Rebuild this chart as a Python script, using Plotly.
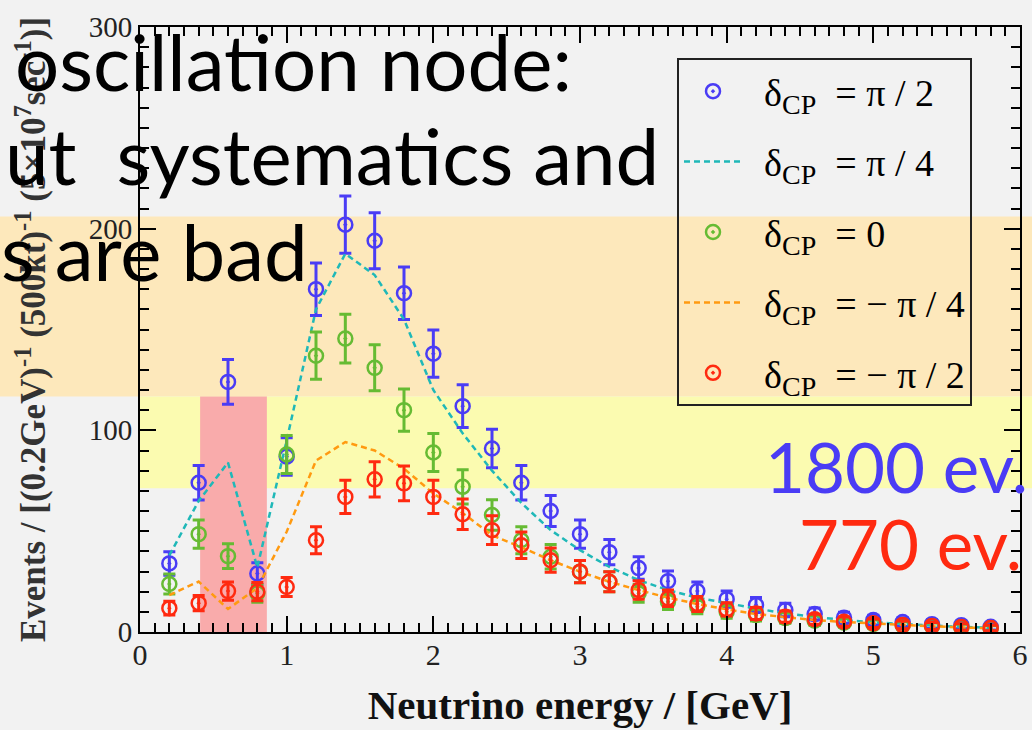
import plotly.graph_objects as go

energy = [0.2, 0.4, 0.6, 0.8, 1.0, 1.2, 1.4, 1.6, 1.8, 2.0, 2.2, 2.4, 2.6, 2.8, 3.0,
          3.2, 3.4, 3.6, 3.8, 4.0, 4.2, 4.4, 4.6, 4.8, 5.0, 5.2, 5.4, 5.6, 5.8]

dcp_pi2 = [34, 74, 124, 29, 87, 170, 202, 194, 168, 138, 112, 91, 74, 60, 48.5,
           39.6, 31.7, 25.2, 20.3, 16.3, 13.4, 10.9, 8.9, 7.1, 5.9, 4.9, 3.9, 3.4, 2.6]
err_pi2 = [5.8, 8.6, 11.1, 5.4, 9.3, 13.0, 14.2, 13.9, 13.0, 11.7, 10.6, 9.5, 8.6, 7.7, 7.0,
           6.3, 5.6, 5.0, 4.5, 4.0, 3.7, 3.3, 3.0, 2.7, 2.4, 2.2, 2.0, 1.8, 1.6]

dcp_pi4 = [38, 65, 84, 32, 95, 160, 187.6, 177, 155, 120, 98.5, 80, 64, 50.5, 40.6,
           32.3, 25.7, 20.8, 17, 14.2, 11.7, 9.2, 7.6, 5.9, 4.8, 3.9, 3.2, 2.6, 2.1]

dcp_0 = [23.8, 48.5, 37.6, 19.2, 88, 137, 145.5, 131, 110, 89, 72, 58, 45.5, 37.3, 29.9,
         24.9, 19.2, 15, 12.5, 10, 8.4, 6.9, 5.6, 4.6, 4.0, 3.3, 2.8, 2.3, 1.8]
err_0 = [4.9, 7.0, 6.1, 4.4, 9.4, 11.7, 12.1, 11.4, 10.5, 9.4, 8.5, 7.6, 6.7, 6.1, 5.5,
         5.0, 4.4, 3.9, 3.5, 3.2, 2.9, 2.6, 2.4, 2.1, 2.0, 1.8, 1.7, 1.5, 1.3]

dcp_mpi4 = [18.3, 25, 11.4, 21.8, 49.7, 85, 94.2, 90, 81, 68.7, 59, 48, 42, 35.6, 29.9,
            24.9, 20.8, 17, 13.9, 11.2, 8.9, 7.3, 5.9, 5.0, 4.1, 3.5, 2.8, 2.3, 1.8]

dcp_mpi2 = [11.8, 14.3, 20.3, 20, 22.3, 45.5, 67, 75.7, 73.7, 67, 58.4, 50.5, 43, 35.6, 29.9,
            24.9, 20.8, 16.7, 13.9, 11.2, 9.2, 7.6, 6.3, 5.1, 4.3, 3.5, 3.0, 2.5, 2.0]
err_mpi2 = [3.4, 3.8, 4.5, 4.5, 4.7, 6.7, 8.2, 8.7, 8.6, 8.2, 7.6, 7.1, 6.6, 6.0, 5.5,
            5.0, 4.6, 4.1, 3.7, 3.3, 3.0, 2.8, 2.5, 2.3, 2.1, 1.9, 1.7, 1.6, 1.4]

NB = "\u00a0"
TH = "\u2009"
SUB = "<sub><span style='font-size:28px'>CP</span></sub>"
PRE = NB + TH
labels = [PRE + "δ" + SUB + NB * 2 + "= π / 2",
          PRE + "δ" + SUB + NB * 2 + "= π / 4",
          PRE + "δ" + SUB + NB * 2 + "= 0",
          PRE + "δ" + SUB + NB * 2 + "= − π / 4",
          PRE + "δ" + SUB + NB * 2 + "= − π / 2"]

x_ticks = [0, 1, 2, 3, 4, 5, 6]
y_ticks = [0, 100, 200, 300]
x_range = [0, 6]
y_range = [0, 300]

# slide highlight bands (in data units of the y axis)
orange_band = [116.8, 206]
yellow_band = [71.3, 116.8]
red_box_x = [0.41, 0.865]

overlay_lines = ["oscillation node:", "ut  systematics and", "s are bad"]
count_texts = ["1800 ev.", "770 ev."]

BLUE = "#4a3cf5"
CYAN = "#1fb8b8"
GREEN = "#66bb33"
ORANGE = "#ff9a10"
RED = "#ff2a10"

fig = go.Figure()

def pts(y, err, color, name):
    fig.add_trace(go.Scatter(
        x=energy, y=y, mode="markers", name=name, legendgroup=name,
        marker=dict(symbol="circle-open-dot", size=14, color=color, line=dict(width=2.5, color=color)),
        error_y=dict(type="data", array=err, visible=True, color=color, thickness=3, width=6),
    ))

def line(y, color, name):
    fig.add_trace(go.Scatter(
        x=energy, y=y, mode="lines", name=name, legendgroup=name,
        line=dict(color=color, width=2.5, dash="6px,4px"),
    ))

pts(dcp_pi2, err_pi2, BLUE, labels[0])
line(dcp_pi4, CYAN, labels[1])
pts(dcp_0, err_0, GREEN, labels[2])
line(dcp_mpi4, ORANGE, labels[3])
pts(dcp_mpi2, err_mpi2, RED, labels[4])

L, R, T, B = 140, 12, 27, 98
W, H = 1032, 730
pw = W - L - R
ph = H - T - B

def ypap(v):
    return (v - y_range[0]) / (y_range[1] - y_range[0])

shapes = [
    dict(type="rect", xref="paper", yref="paper", x0=-L / pw, x1=1 + R / pw,
         y0=ypap(orange_band[0]), y1=ypap(orange_band[1]),
         fillcolor="#fde8bb", line=dict(width=0), layer="below"),
    dict(type="rect", xref="paper", yref="paper", x0=-2 / pw, x1=1 + R / pw,
         y0=ypap(yellow_band[0]), y1=ypap(yellow_band[1]),
         fillcolor="#fbfbb0", line=dict(width=0), layer="below"),
    dict(type="rect", xref="x", yref="y", x0=red_box_x[0], x1=red_box_x[1],
         y0=y_range[0], y1=yellow_band[1],
         fillcolor="#f9abab", line=dict(width=0), layer="below"),
]

annotations = []
big_font = dict(family="Lato", size=78, color="black")
line_pos = [(13, 93), (3, 187), (-1, 283)]
for txt, (px, py) in zip(overlay_lines, line_pos):
    annotations.append(dict(text=txt, xref="paper", yref="paper",
                            x=(px - L) / pw, y=(H - B - py) / ph,
                            xanchor="left", yanchor="bottom", showarrow=False,
                            font=big_font, yshift=-17))
annotations.append(dict(text=count_texts[0], xref="paper", yref="paper",
                        x=(763 - L) / pw, y=(H - B - 495) / ph, xanchor="left", yanchor="bottom",
                        showarrow=False, yshift=-15,
                        font=dict(family="Lato", size=69, color=BLUE)))
annotations.append(dict(text=count_texts[1], xref="paper", yref="paper",
                        x=(797 - L) / pw, y=(H - B - 572) / ph, xanchor="left", yanchor="bottom",
                        showarrow=False, yshift=-15,
                        font=dict(family="Lato", size=69, color=RED)))

axis_common = dict(
    showline=True, linecolor="black", linewidth=2, mirror="ticks",
    ticks="inside", ticklen=16, tickwidth=2, tickcolor="black",
    showgrid=False, zeroline=False, automargin=False,
)

fig.update_layout(
    width=W, height=H,
    margin=dict(l=L, r=R, t=T, b=B, autoexpand=False),
    paper_bgcolor="#f2f2f2", plot_bgcolor="rgba(0,0,0,0)",
    shapes=shapes, annotations=annotations,
    showlegend=True,
    legend=dict(x=(677 - L) / pw, y=(H - B - 58) / ph, xanchor="left", yanchor="top",
                bgcolor="rgba(0,0,0,0)", bordercolor="#222", borderwidth=2,
                font=dict(family="Liberation Serif", size=38, color="black"),
                tracegroupgap=18, itemwidth=58),
    xaxis=dict(range=x_range, tickvals=x_ticks, **axis_common,
               tickfont=dict(family="Liberation Serif", size=30, color="#222"),
               ticklabelstandoff=-5,
               minor=dict(dtick=0.1, ticklen=9, tickwidth=2, tickcolor="black", ticks="inside"),
               title=dict(text="<b>Neutrino energy / [GeV]</b>", standoff=20,
                          font=dict(family="Liberation Serif", size=41, color="#111"))),
    yaxis=dict(range=y_range, tickvals=y_ticks, **axis_common,
               tickfont=dict(family="Liberation Serif", size=29, color="#222"),
               minor=dict(dtick=10, ticklen=9, tickwidth=2, tickcolor="black", ticks="inside"),
               title=dict(text="<b>Events / [(0.2GeV)<sup>-1</sup> (500kt)<sup>-1</sup> (5×10<sup>7</sup>sec<sup>-1</sup>)]</b>",
                          standoff=32,
                          font=dict(family="Liberation Serif", size=35, color="#333"))),
)

fig.write_html(
    "out.html",
    config={"displayModeBar": False},
    post_script=("document.body.style.margin='0px';"
                 "document.body.style.overflow='hidden';"
                 "document.documentElement.style.overflow='hidden';"
                 "document.body.style.background='#f2f2f2';"),
)
